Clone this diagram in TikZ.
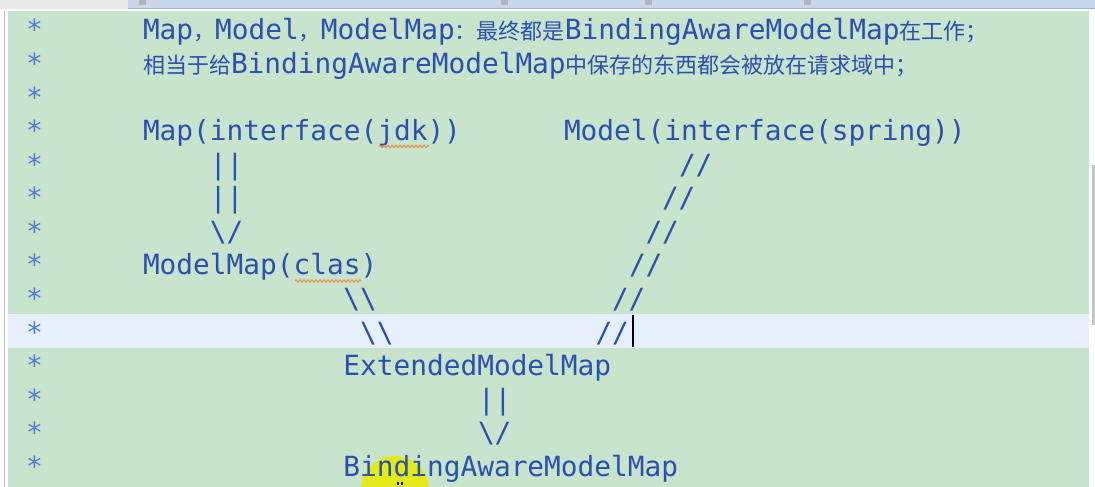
\documentclass[tikz,border=0pt]{standalone}
\usepackage{fontspec}
\setmonofont{DejaVu Sans Mono}
\newfontfamily\cjkfont{Noto Sans CJK SC}
\usetikzlibrary{decorations.pathmorphing}
\definecolor{bg}{RGB}{200,228,204}
\definecolor{hl}{RGB}{230,240,252}
\definecolor{codeblue}{RGB}{42,80,176}
\definecolor{starblue}{RGB}{80,125,210}
\definecolor{topbar}{RGB}{201,215,236}
\definecolor{topline}{RGB}{168,184,208}
\definecolor{squig}{RGB}{232,140,70}
\definecolor{mouse}{RGB}{226,234,24}
\newcommand\zh[1]{{\cjkfont\fontsize{22}{24}\selectfont #1}}
\newcommand\bs{\textbackslash}
\begin{document}
\begin{tikzpicture}[x=1pt,y=-1pt,
  code/.style={anchor=base west, inner sep=0pt, outer sep=0pt, text=codeblue,
    font=\ttfamily\fontsize{27.8}{30}\selectfont},
  star/.style={anchor=base west, inner sep=0pt, outer sep=0pt, text=starblue,
    font=\ttfamily\fontsize{27.8}{30}\selectfont},
  wavy/.style={draw=squig, line width=0.9pt, decorate,
    decoration={zigzag, amplitude=1.3pt, segment length=4pt}}]
\useasboundingbox (0,0) rectangle (1095,487);
% background
\fill[white] (0,0) rectangle (1095,487);
\fill[bg] (8,11) rectangle (1089,487);
\fill[hl] (8,314) rectangle (1089,348);
\draw[gray!50, line width=1pt] (4.5,11) -- (4.5,487);
\fill[gray!18] (0,0) rectangle (128,9);
\fill[topbar] (128,0) rectangle (1095,8);
\draw[topline, line width=1pt] (128,8.5) -- (1095,8.5);
\fill[gray!60] (139,0) rectangle (146,5);
\fill[gray!60] (501,0) rectangle (508,5);
\fill[gray!60] (645,0) rectangle (652,5);
\fill[gray!60] (804,0) rectangle (811,5);
\fill[gray!45] (1091.5,165) rectangle (1095,325);
% mouse highlight (under the text)
\fill[mouse] (395,490) circle (34);
\fill[black] (397,482) rectangle (399,485);
\fill[black] (401,482) rectangle (403,485);
% asterisks
\foreach \b [count=\i] in {40,73.5,107,140.6,174.2,207.7,241.3,274.8,308.4,342,375.5,409,442.6,476}
  \node[star] (star\i) at (26.1,\b) {*};
% line 1 and 2
\node[code] (t1) at (143,40) {Map\zh{，}Model\zh{，}ModelMap\zh{：最终都是}BindingAwareModelMap\zh{在工作；}};
\node[code] (t2) at (143,73.5) {\zh{相当于给}BindingAwareModelMap\zh{中保存的东西都会被放在请求域中；}};
% diagram
\node[code] (map) at (143,140.6) {Map(interface(jdk))};
\node[code] (model) at (564,140.6) {Model(interface(spring))};
\node[code] (a1) at (209.8,174.2) {||};
\node[code] (a2) at (209.8,207.7) {||};
\node[code] (a3) at (209.8,241.3) {\bs/};
\node[code] (modelmap) at (143,274.8) {ModelMap(clas)};
\node[code] (b1) at (679,174.2) {//};
\node[code] (b2) at (662,207.7) {//};
\node[code] (b3) at (645.5,241.3) {//};
\node[code] (b4) at (629,274.8) {//};
\node[code] (b5) at (612,308.4) {//};
\node[code] (b6) at (595.5,342) {//};
\node[code] (c1) at (343.4,308.4) {\bs\bs};
\node[code] (c2) at (360.1,342) {\bs\bs};
\node[code] (ext) at (343.4,375.5) {ExtendedModelMap};
\node[code] (d1) at (478,409) {||};
\node[code] (d2) at (478,442.6) {\bs/};
\node[code] (bam) at (343.4,476) {BindingAwareModelMap};
% spell-check squiggles
\draw[wavy] (379,146.5) -- (429,146.5);
\draw[wavy] (295,281) -- (361,281);
% caret
\draw[black, line width=1.6pt] (633,315) -- (633,347);
\end{tikzpicture}
\end{document}
